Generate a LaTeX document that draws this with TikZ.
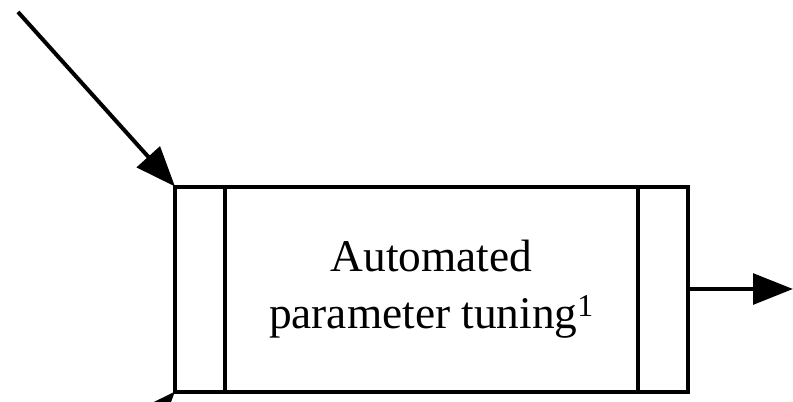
\documentclass[tikz,border=0pt]{standalone}
\usepackage{fontspec}
\setmainfont{Liberation Serif}
\usepackage{tikz}
\usetikzlibrary{arrows.meta, positioning, calc}

\tikzset{
  procbox/.style={draw=black, line width=3pt, rectangle, inner sep=0pt, outer sep=0pt,
    minimum width=384.75pt, minimum height=153.75pt, align=center,
    font=\fontsize{34}{43}\selectfont},
  flow/.style={draw=black, line width=3pt, -{Triangle[length=30pt, width=23pt]}}
}

\begin{document}
\begin{tikzpicture}[x=0.75pt,y=-0.75pt]
  \useasboundingbox (0,0) rectangle (793,401);
  \clip (0,0) rectangle (793,401);
  % process box with side bars
  \node[procbox] (tuning) at (431.5,289) {Automated\\parameter tuning\textsuperscript{1}};
  \draw[line width=3pt] ([xshift=37.5pt]tuning.north west) -- ([xshift=37.5pt]tuning.south west);
  \draw[line width=3pt] ([xshift=-37.5pt]tuning.north east) -- ([xshift=-37.5pt]tuning.south east);
  % connectors
  \coordinate (inA) at (18,12);
  \coordinate (inB) at (18,566);
  \coordinate (outA) at (793,0);
  \draw[flow] (inA) -- (tuning.north west);
  \draw[flow] (inB) -- (tuning.south west);
  \draw[flow] (tuning.east) -- (tuning.east -| outA);
\end{tikzpicture}
\end{document}
